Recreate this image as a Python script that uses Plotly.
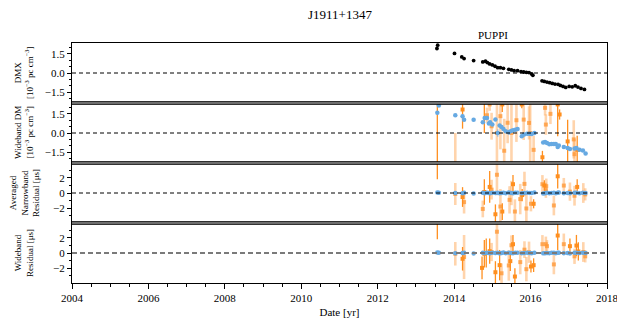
import plotly.graph_objects as go
from plotly.subplots import make_subplots

# ---------------- data ----------------
dmx_dates = [2013.55, 2013.57, 2014.01, 2014.20, 2014.26, 2014.51, 2014.75, 2014.82, 2014.87, 2014.93,
             2015.00, 2015.07, 2015.14, 2015.21, 2015.29, 2015.43, 2015.50, 2015.57, 2015.66, 2015.75,
             2015.82, 2015.89, 2015.96, 2016.03, 2016.06, 2016.30, 2016.36, 2016.43, 2016.50, 2016.57,
             2016.64, 2016.72, 2016.78, 2016.85, 2016.92, 2017.01, 2017.09, 2017.17, 2017.24, 2017.32,
             2017.41]
dmx_vals = [1.92, 2.18, 1.53, 1.26, 1.13, 0.97, 0.87, 0.92, 0.82, 0.71,
            0.63, 0.53, 0.42, 0.42, 0.37, 0.29, 0.24, 0.18, 0.18, 0.11,
            0.08, 0.05, 0.03, -0.08, -0.18, -0.61, -0.66, -0.71, -0.76, -0.82,
            -0.87, -0.89, -0.97, -1.05, -1.13, -1.05, -1.08, -1.00, -1.10, -1.21,
            -1.29]
dmx_errs = [0.06] * 2 + [0.03] * 39

wb_dates = [2013.56, 2013.60, 2014.03, 2014.22, 2014.26, 2014.51, 2014.75, 2014.80, 2014.86, 2014.91,
            2014.94, 2015.00, 2015.08, 2015.14, 2015.19, 2015.24, 2015.29, 2015.35, 2015.43, 2015.49,
            2015.54, 2015.60, 2015.66, 2015.77, 2015.83, 2015.91, 2015.98, 2016.03, 2016.10, 2016.33,
            2016.38, 2016.43, 2016.49, 2016.55, 2016.61, 2016.66, 2016.71, 2016.74, 2016.87, 2016.97,
            2017.03, 2017.15, 2017.20, 2017.28, 2017.37, 2017.44]
wb_dm = [1.58, 2.16, 1.39, 1.32, 1.03, 1.03, 0.84, 1.18, 1.18, 0.74,
         0.84, 0.66, 1.05, 0.00, 0.58, 0.47, 0.32, 0.13, 0.05, 0.16,
         0.21, 0.26, 0.32, -0.26, -0.11, -0.05, -0.05, -0.08, 0.00, -0.74,
         -0.71, -0.79, -0.89, -0.87, -0.87, -0.87, -1.10, -0.97, -1.10, -1.18,
         -1.26, -1.21, -1.18, -1.32, -1.37, -1.60]
wb_dm_err = [0.10, 0.10, 0.06, 0.08, 0.06, 0.05, 0.08, 0.06, 0.06, 0.10,
             0.08, 0.08, 0.10, 0.30, 0.10, 0.08, 0.10, 0.12, 0.20, 0.08,
             0.08, 0.08, 0.08, 0.10, 0.06, 0.05, 0.05, 0.05, 0.05, 0.06,
             0.06, 0.06, 0.06, 0.06, 0.06, 0.06, 0.10, 0.06, 0.06, 0.06,
             0.06, 0.06, 0.06, 0.06, 0.08, 0.10]
nb_res_blue = [0.05, 0.02, 0.00, -0.02, 0.03, -0.05, 0.04, -0.03, 0.02, 0.00,
               -0.04, 0.03, 0.00, 0.02, -0.03, 0.01, 0.03, -0.02, 0.05, 0.00,
               -0.03, 0.02, 0.04, -0.02, 0.01, 0.03, 0.00, -0.01, 0.05, -0.05,
               -0.02, 0.02, -0.04, 0.00, 0.03, -0.03, 0.02, 0.05, -0.02, 0.00,
               -0.04, 0.02, 0.03, -0.02, 0.04, 0.00]
wb_res_blue = [0.08, 0.02, -0.02, 0.00, 0.04, -0.06, 0.02, -0.02, 0.03, 0.01,
               -0.03, 0.04, -0.01, 0.02, -0.04, 0.00, 0.05, -0.02, 0.04, 0.01,
               -0.02, 0.03, 0.02, -0.03, 0.00, 0.04, 0.01, -0.02, 0.03, -0.04,
               -0.03, 0.01, -0.03, 0.02, 0.02, -0.02, 0.03, 0.04, -0.03, 0.01,
               -0.05, 0.03, 0.02, -0.01, 0.03, 0.01]

# orange (per-epoch) series, panel 2
dm_dark_dates = [2013.56, 2014.22, 2014.79, 2015.26, 2015.77, 2016.31, 2016.71, 2016.76, 2016.97, 2017.22]
dm_dark_vals = [6.0, 1.84, 2.6, 2.24, 2.24, -1.90, 2.24, 1.45, -0.66, -1.32]
dm_dark_errs = [9.0, 1.50, 2.6, 0.60, 0.30, 0.50, 2.50, 0.40, 1.70, 1.10]
dm_light_dates = [2014.03, 2014.86, 2014.93, 2014.98, 2015.12, 2015.21, 2015.31, 2015.40, 2015.50, 2015.63,
                  2015.82, 2015.96, 2015.99, 2016.08, 2016.38, 2016.40, 2016.52, 2017.13, 2017.15]
dm_light_vals = [-2.6, 1.39, 2.24, 0.53, 0.0, 1.32, -1.39, 0.8, 0.0, 1.0,
                 1.05, 0.79, 0.0, -1.32, 1.97, 0.66, 1.5, -0.5, -1.66]
dm_light_errs = [2.6, 0.6, 0.5, 1.05, 3.0, 2.6, 2.5, 1.6, 3.0, 1.7,
                 1.6, 1.3, 2.5, 1.1, 0.6, 0.8, 0.8, 1.5, 1.2]

# orange, panel 3 (averaged narrowband residuals)
nb_dark_dates = [2013.56, 2014.22, 2014.79, 2014.93, 2015.08, 2015.26, 2015.54, 2015.78, 2016.08, 2016.36,
                 2016.71, 2017.22]
nb_dark_vals = [8.0, -0.53, 0.13, 0.80, -2.80, -2.44, 1.16, -0.27, -1.42, 0.98, 2.20, 0.80]
nb_dark_errs = [6.2, 1.30, 1.67, 2.10, 1.30, 1.10, 1.20, 0.80, 0.60, 0.70, 1.60, 1.00]
nb_light_dates = [2014.03, 2014.26, 2014.75, 2014.98, 2015.12, 2015.21, 2015.45, 2015.50, 2015.59, 2015.73,
                  2015.84, 2015.89, 2016.01, 2016.31, 2016.40, 2016.41, 2016.61, 2016.87, 2017.03, 2017.15,
                  2017.38, 2017.43]
nb_light_vals = [-0.13, -1.2, -2.1, 0.44, 2.4, -1.78, -0.9, 0.0, -2.44, -0.8,
                 1.2, -2.04, -1.42, 1.16, 0.36, 0.9, -1.64, 0.98, 0.18, -0.36,
                 0.0, -0.18]
nb_light_errs = [1.45, 1.5, 1.1, 1.3, 2.7, 2.3, 1.8, 1.6, 1.6, 2.0,
                 1.6, 2.0, 1.0, 1.2, 1.0, 1.0, 1.3, 1.0, 1.2, 1.3,
                 1.3, 0.8]

# orange, panel 4 (wideband residuals)
wr_dark_dates = [2013.56, 2014.22, 2014.73, 2014.79, 2014.84, 2014.93, 2015.08, 2015.19, 2015.47, 2015.54,
                 2015.59, 2016.01, 2016.08, 2016.71, 2017.03, 2017.20, 2017.25]
wr_dark_vals = [8.0, -0.76, -1.96, -0.10, 0.00, 0.24, -2.53, -1.60, -1.07, 1.16,
                -3.10, -1.78, -1.60, 2.30, 0.90, 0.98, 0.20]
wr_dark_errs = [6.2, 1.55, 1.50, 1.80, 1.90, 1.67, 1.45, 2.00, 1.30, 1.20,
                1.10, 0.80, 0.90, 1.90, 1.00, 1.40, 1.20]
wr_light_dates = [2014.03, 2014.26, 2014.98, 2015.12, 2015.24, 2015.43, 2015.50, 2015.73, 2015.84, 2015.89,
                  2015.96, 2016.31, 2016.40, 2016.43, 2016.61, 2016.87, 2017.15, 2017.38, 2017.43]
wr_light_vals = [-0.10, -0.53, 0.13, 2.80, -2.67, -1.64, 1.02, -1.20, 0.44, -2.13,
                 0.10, 1.16, 1.16, 0.90, -1.50, 1.16, -0.44, 0.13, -0.44]
wr_light_errs = [1.55, 2.90, 1.20, 2.60, 1.30, 2.00, 1.30, 1.60, 1.10, 1.60,
                 1.40, 1.20, 1.00, 0.80, 1.30, 1.40, 1.00, 1.30, 0.80]

x_range = [2004, 2018]
y_ranges = [[-2.35, 2.35], [-2.35, 2.35], [-3.95, 3.95], [-3.95, 3.95]]

# ---------------- styles ----------------
FONT = "Liberation Serif, Times New Roman, serif"
BLUE = "#66a9e2"
BLUE_ERR = "rgba(120,175,230,0.55)"
ORANGE = "#ff8f1f"
ORANGE_LIGHT_M = "rgba(255,150,50,0.75)"
ORANGE_LIGHT_E = "rgba(255,170,90,0.5)"

# page body has an 8px default margin; compensate so the plot lands where the reference has it
OFF = 8
W, Hpx = 625, 326
ML, MR, MT, MB = 72 - OFF, 18 + OFF, 43 - OFF, 43 + OFF
PW = W - ML - MR
PH = Hpx - MT - MB

fig = make_subplots(rows=4, cols=1, shared_xaxes=True, vertical_spacing=0)


def orange(row, dates, vals, errs, dark):
    fig.add_trace(go.Scatter(
        x=dates, y=vals, mode="markers",
        marker=dict(size=4, color=ORANGE if dark else ORANGE_LIGHT_M, symbol="square"),
        error_y=dict(type="data", array=errs, visible=True, width=0,
                     thickness=1.3 if dark else 2.6,
                     color=ORANGE if dark else ORANGE_LIGHT_E),
        cliponaxis=True, showlegend=False), row=row, col=1)


def blue(row, vals, errs):
    fig.add_trace(go.Scatter(
        x=wb_dates, y=vals, mode="markers",
        marker=dict(size=4.5, color=BLUE, symbol="circle"),
        error_y=dict(type="data", array=errs, visible=True, width=0, thickness=1.5, color=BLUE_ERR),
        showlegend=False), row=row, col=1)


# panel 1: DMX
fig.add_trace(go.Scatter(
    x=dmx_dates, y=dmx_vals, mode="markers",
    marker=dict(size=3.8, color="black"),
    error_y=dict(type="data", array=dmx_errs, visible=True, width=0, thickness=1, color="black"),
    showlegend=False), row=1, col=1)

# panel 2
orange(2, dm_light_dates, dm_light_vals, dm_light_errs, False)
orange(2, dm_dark_dates, dm_dark_vals, dm_dark_errs, True)
blue(2, wb_dm, wb_dm_err)
# panel 3
orange(3, nb_light_dates, nb_light_vals, nb_light_errs, False)
orange(3, nb_dark_dates, nb_dark_vals, nb_dark_errs, True)
blue(3, nb_res_blue, [0.05] * len(wb_dates))
# panel 4
orange(4, wr_light_dates, wr_light_vals, wr_light_errs, False)
orange(4, wr_dark_dates, wr_dark_vals, wr_dark_errs, True)
blue(4, wb_res_blue, [0.05] * len(wb_dates))

# zero lines
for r in (1, 2, 3):
    fig.add_hline(y=0, row=r, col=1, line=dict(color="black", width=1, dash="4px,3px"), layer="above")
fig.add_hline(y=0, row=4, col=1, line=dict(color="#7a7a7a", width=2, dash="5px,3px"), layer="above")

# axes
ytick_sets = [([-1.5, 0, 1.5], ".1f", 0.5), ([-1.5, 0, 1.5], ".1f", 0.5),
              ([-2, 0, 2], "d", 1), ([-2, 0, 2], "d", 1)]
for i in range(4):
    tv, fmt, mdt = ytick_sets[i]
    fig.update_yaxes(row=i + 1, col=1, range=y_ranges[i], tickvals=tv, tickformat=fmt,
                     ticks="outside", ticklen=4, tickwidth=1, tickcolor="black",
                     minor=dict(dtick=mdt, tick0=0, ticks="outside", ticklen=2, tickcolor="black"),
                     showline=True, mirror=True, linecolor="black", linewidth=1.3,
                     showgrid=False, zeroline=False,
                     tickfont=dict(family=FONT, size=11, color="black"))
    fig.update_xaxes(row=i + 1, col=1, range=x_range, showline=True, mirror=True,
                     linecolor="black", linewidth=1.3, showgrid=False, zeroline=False)

for r in (1, 2, 3):
    fig.update_xaxes(row=r, col=1, ticks="", showticklabels=False)
fig.update_xaxes(row=4, col=1, tick0=2004, dtick=2, ticks="outside", ticklen=5, tickcolor="black",
                 minor=dict(dtick=0.5, tick0=2004, ticks="outside", ticklen=3, tickcolor="black"),
                 tickfont=dict(family=FONT, size=11, color="black"),
                 title=dict(text="Date [yr]", font=dict(family=FONT, size=11, color="black"), standoff=4))

# thick separators between panels
for k in (1, 2, 3):
    yb = 1 - k * 0.25
    fig.add_shape(type="line", xref="paper", yref="paper", x0=0, x1=1, y0=yb, y1=yb,
                  line=dict(color="#8a8a8a", width=1.8), layer="above")
    for d in (-1.3, 1.3):
        fig.add_shape(type="line", xref="paper", yref="paper", x0=0, x1=1,
                      y0=yb + d / PH, y1=yb + d / PH,
                      line=dict(color="black", width=1.0), layer="above")

# y labels
labels = [
    "DMX<br>[10<sup>−3</sup> pc cm<sup>−3</sup>]",
    "Wideband DM<br>[10<sup>−3</sup> pc cm<sup>−3</sup>]",
    "Averaged<br>Narrowband<br>Residual [μs]",
    "Wideband<br>Residual [μs]",
]
for i, t in enumerate(labels):
    fig.add_annotation(text=t, xref="paper", yref="paper", x=-48 / PW, y=1 - (i + 0.5) * 0.25,
                       xanchor="center", yanchor="middle", textangle=-90, showarrow=False,
                       font=dict(family=FONT, size=9, color="black"))

fig.add_annotation(text="PUPPI", xref="x", yref="paper", x=2015.02, y=1.0, yanchor="bottom",
                   xanchor="center", showarrow=False, yshift=0,
                   font=dict(family=FONT, size=11, color="black"))

# title as an annotation (centred over the plot area, kept inside the figure)
fig.add_annotation(text="J1911+1347", xref="paper", yref="paper", x=0.5, y=1 + (43 - 15) / PH,
                   xanchor="center", yanchor="middle", showarrow=False,
                   font=dict(family=FONT, size=13, color="black"))

fig.update_layout(
    width=W, height=Hpx,
    margin=dict(l=ML, r=MR, t=MT, b=MB),
    paper_bgcolor="white", plot_bgcolor="white",
    font=dict(family=FONT, color="black"),
    hovermode=False,
)

fig.write_html("out.html", config={"displayModeBar": False})
